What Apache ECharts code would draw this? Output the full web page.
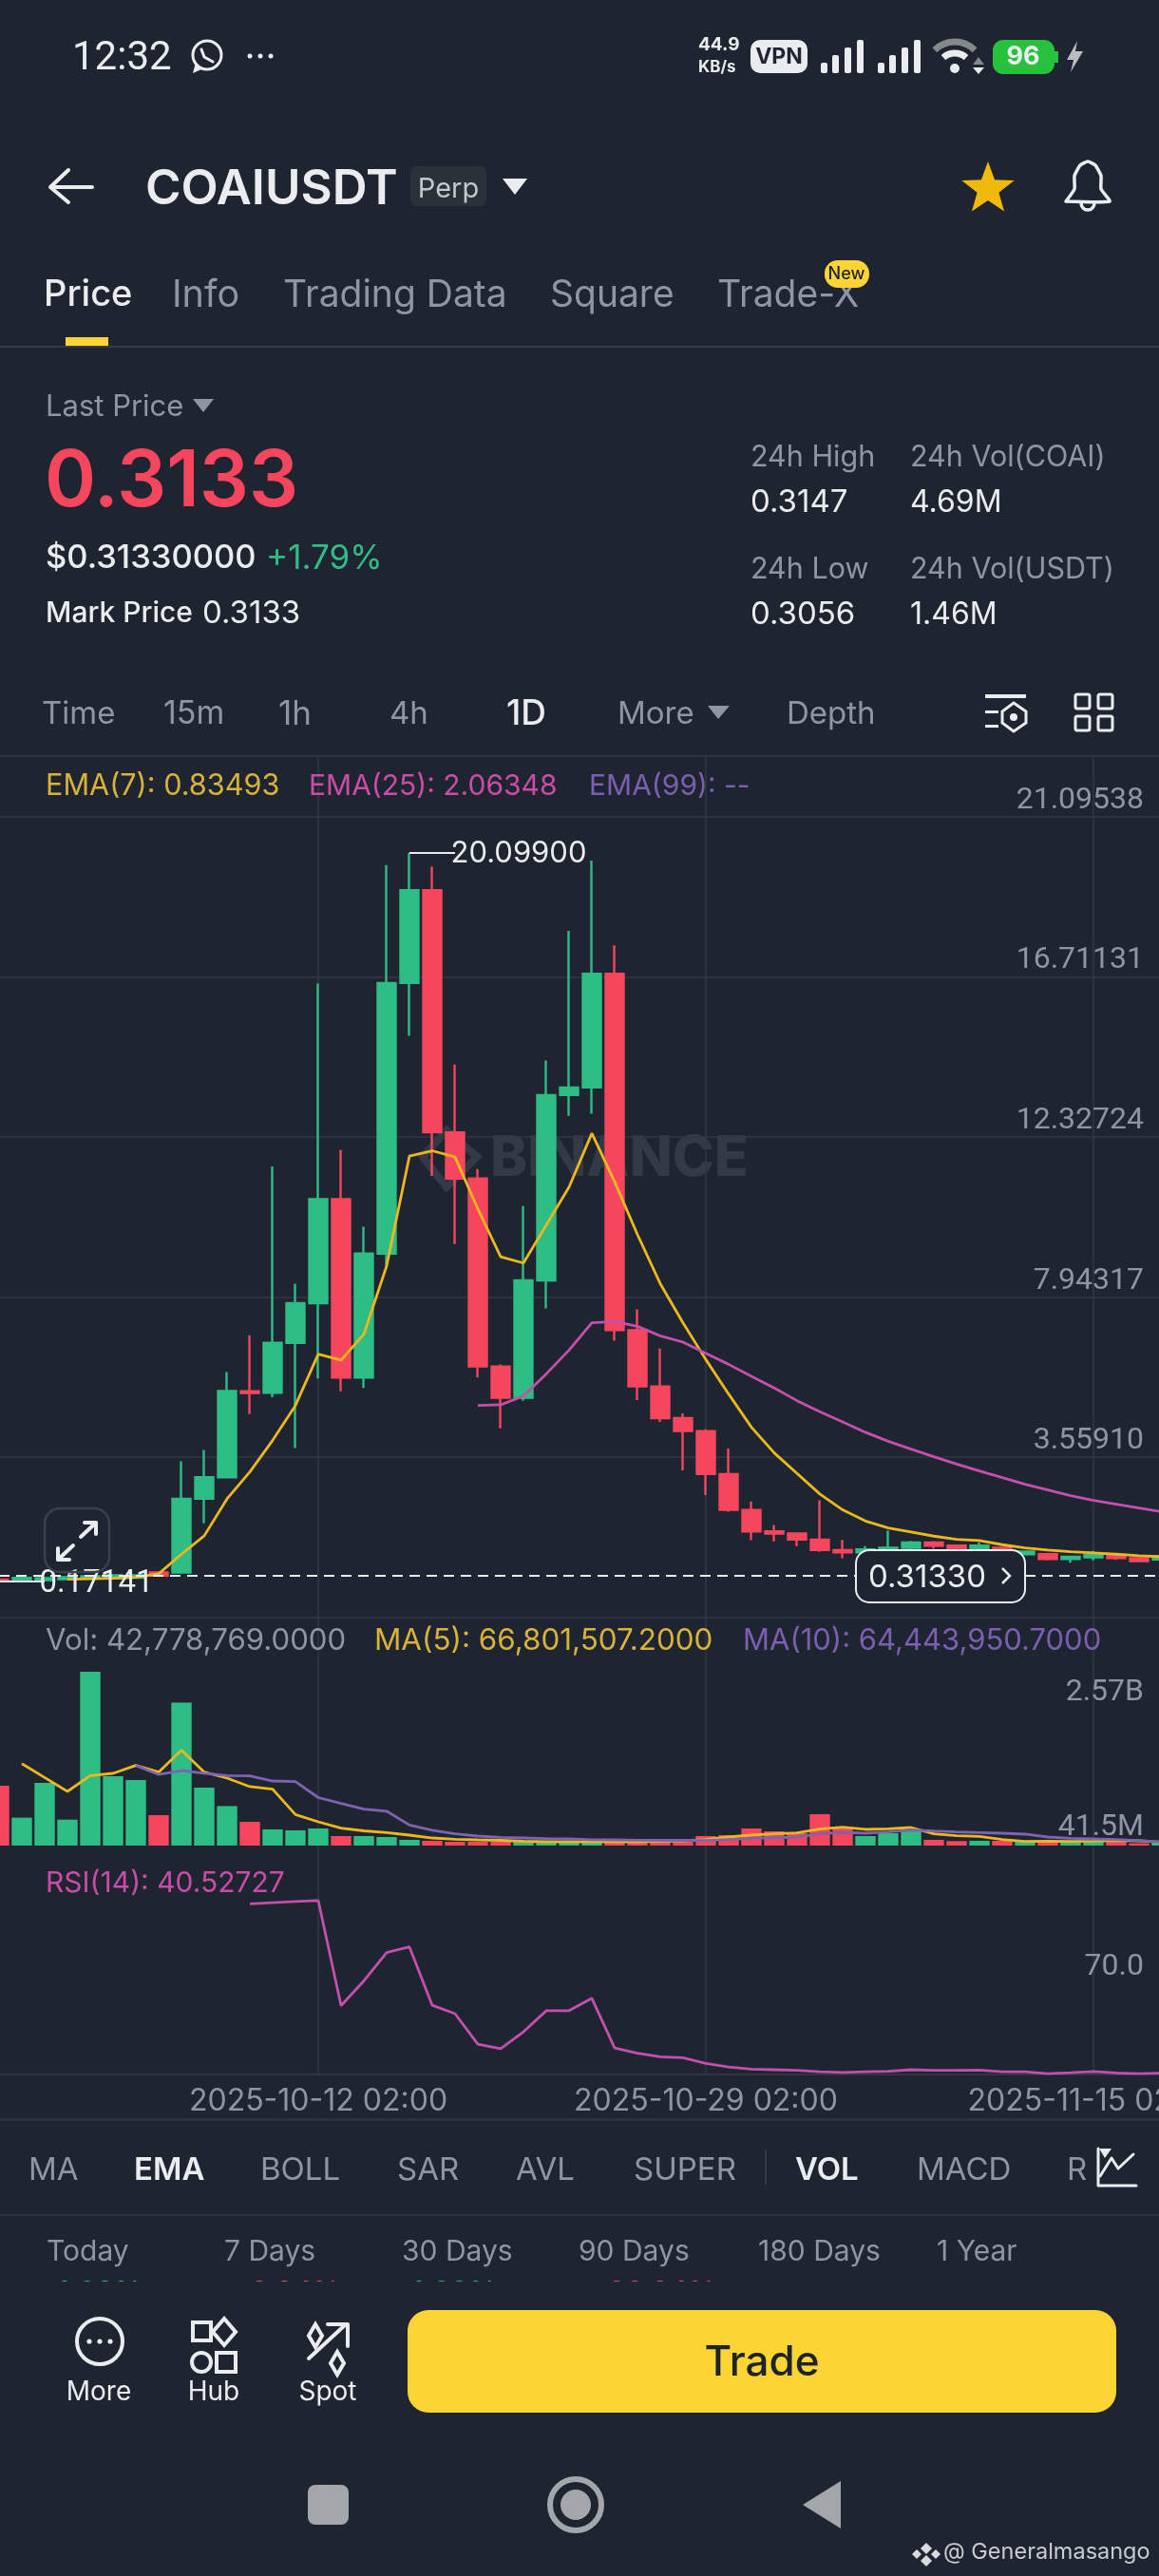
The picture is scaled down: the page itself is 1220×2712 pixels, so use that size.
<!DOCTYPE html>
<html><head><meta charset="utf-8">
<script src="https://cdn.jsdelivr.net/npm/echarts@6/dist/echarts.min.js"></script>
<style>html,body{margin:0;padding:0;background:#1e2530}#c{width:1220px;height:2712px}</style>
</head><body><div id="c"></div>
<script>
const days=['09-28','09-29','09-30','10-01','10-02','10-03','10-04','10-05','10-06','10-07','10-08','10-09','10-10','10-11','10-12','10-13','10-14','10-15','10-16','10-17','10-18','10-19','10-20','10-21','10-22','10-23','10-24','10-25','10-26','10-27','10-28','10-29','10-30','10-31','11-01','11-02','11-03','11-04','11-05','11-06','11-07','11-08','11-09','11-10','11-11','11-12','11-13','11-14','11-15','11-16','11-17','11-18'];
const xTickLabels=['2025-10-12 02:00','2025-10-29 02:00','2025-11-15 02:00'];
const opens=[.21,.193,.193,.219,.245,.245,.258,.401,.401,2.42,3.008,5.365,5.321,6.69,7.774,10.622,5.737,9.133,16.54,19.078,12.452,11.186,6.041,5.183,8.398,13.473,13.681,16.792,7.036,5.495,4.629,4.273,3.096,2.116,1.527,1.467,1.303,1.017,.955,1.033,1.077,1.225,1.137,1.059,1.077,.903,.903,.773,.817,.877,.791,.757];
const closes=[.175,.253,.245,.271,.297,.323,.323,.315,2.42,3.008,5.373,5.313,6.69,7.774,10.622,5.737,9.133,16.54,19.078,12.452,11.186,6.041,5.183,8.398,13.473,13.681,16.792,7.036,5.495,4.629,4.273,3.096,2.116,1.527,1.467,1.303,1.017,.955,1.033,1.077,1.225,1.137,1.059,1.137,.981,.973,.773,.835,.887,.799,.713,.835];
const lows=[.17141,.185,.18,.2,.23,.23,.25,.3,.39,1.745,2.982,4.741,5.201,3.806,5.711,5.365,5.451,8.795,15.092,11.256,9.393,5.737,4.351,5.105,7.634,12.901,12.961,6.75,5.123,4.525,3.2,2.524,2.064,1.285,1.251,1.121,.965,.791,.921,.835,.999,1.059,.999,.999,.903,.869,.731,.669,.731,.747,.69,.7];
const highs=[.24,.27,.26,.29,.32,.35,.34,.42,3.442,3.754,5.892,6.898,11.516,8.309,16.521,11.966,9.869,19.77,20.099,19.728,14.305,11.446,6.1,10.432,14.416,17.969,19.892,17.571,7.608,6.534,4.759,4.325,3.798,2.343,1.701,1.49,2.376,1.293,1.121,1.553,1.267,1.26,1.15,1.225,1.1,.999,.92,.845,.991,.89,.8,.85];
const ema7=[null,null,null,.219,.232,.245,.271,.367,.903,1.407,2.42,3.156,4.021,4.975,6.378,6.215,6.924,8.795,11.802,11.947,11.776,10.355,9.047,8.873,9.913,10.952,12.426,11.1,9.653,8.309,7.236,6.23,5.287,4.377,3.676,3.112,2.55,2.116,1.812,1.623,1.511,1.397,1.311,1.277,1.163,1.077,1.017,.973,.939,.903,.861,.835];
const ema25=[null,null,null,null,null,null,null,null,null,null,null,null,null,null,null,null,null,null,null,null,null,4.975,4.993,5.235,5.84,6.49,7.236,7.27,7.14,6.88,6.708,6.404,6.1,5.773,5.451,5.105,4.801,4.525,4.24,3.995,3.78,3.572,3.372,3.182,3,2.818,2.662,2.506,2.376,2.272,2.168,2.063];
const volumes=[1121,523,1175,486,3257,1299,1228,570,2679,1086,740,445,303,285,320,178,178,160,107,89,71,71,71,71,71,71,71,71,71,80,89,178,196,320,267,231,587,320,178,231,285,107,84,89,89,77,71,71,71,84,43,71];
const volMa5=[null,1534,1274,1015,1312,1353,1502,1376,1789,1376,1264,1104,1057,580,445,328,276,244,196,142,117,107,98,80,71,71,71,71,71,80,89,112,160,196,219,237,308,344,303,315,338,219,183,173,112,77,84,77,84,94,89,66.8];
const volMa10=[null,null,null,null,null,null,1502,1331,1406,1356,1312,1307,1210,1198,899,790,684,644,384,285,219,178,155,142,130,125,110,107,101,98,98,94,112,142,142,160,219,249,231,255,290,272,255,244,231,214,160,137,125,112,94,64.4];
const rsi14=[null,null,null,null,null,null,null,null,null,null,null,96.4,96.8,97.2,97.5,62.6,70.8,80.2,82.1,62.7,59.9,49.8,48.3,53.9,60.9,60.9,65,48.5,46.8,45.6,45.3,43.4,42.2,41.5,41.3,41.1,40.6,40.4,40.6,40.8,41.3,41.1,41.1,41.2,40.6,40.6,40,40.3,40.7,40.2,40,40.2];
const priceTicks=[21.09538,16.71131,12.32724,7.94317,3.5591];
const priceFloor=-0.82497;
const volTicks=[2570,41.5];
const rsiTicks=[70];
const lastPrice=0.3133, highIdx=18, lowIdx=0, highVal=20.099, lowVal=0.17141;

const categories=days.map(d=>'2025-'+d+' 02:00');
const BG='#1e2530',GR='#8e96a1',GRID='#313843',W='#eaecef',UP='#2ebd85',DN='#f6465d',YL='#edb81f',PK='#c44fae',PU='#7d63b0';
const YT='#d9b23c',PT='#c94ca8',PUT='#7b5fb0';
const F='Inter, "Noto Sans", sans-serif';
const G=[];
function T(text,x,y,size,fill,o){o=o||{};G.push({type:'text',x:x,y:y+4,z:o.z==null?10:o.z,style:{text:text,fill:fill,font:(o.w||400)+' '+size+'px '+F,align:o.a||'left',verticalAlign:'middle',textAlign:o.a||'left',textVerticalAlign:'middle'}});}
function R(x,y,w,h,fill,o){o=o||{};G.push({type:'rect',z:o.z==null?10:o.z,shape:{x:x,y:y,width:w,height:h,r:o.r||0},style:{fill:fill||'none',stroke:o.s||null,lineWidth:o.lw||0}});}
function C(cx,cy,r,fill,o){o=o||{};G.push({type:'circle',z:o.z==null?10:o.z,shape:{cx:cx,cy:cy,r:r},style:{fill:fill||'none',stroke:o.s||null,lineWidth:o.lw||0}});}
function P(pts,fill,o){o=o||{};G.push({type:'polygon',z:o.z==null?10:o.z,shape:{points:pts},style:{fill:fill||'none',stroke:o.s||null,lineWidth:o.lw||0}});}
function L(pts,stroke,lw,o){o=o||{};G.push({type:'polyline',z:o.z==null?10:o.z,shape:{points:pts,smooth:o.smooth||0},style:{fill:'none',stroke:stroke,lineWidth:lw,lineCap:'round',lineJoin:'round'}});}
function A(cx,cy,r,a0,a1,stroke,lw){G.push({type:'arc',z:10,shape:{cx:cx,cy:cy,r:r,startAngle:a0,endAngle:a1},style:{fill:'none',stroke:stroke,lineWidth:lw}});}

// status bar
G.push({type:'text',x:76,y:62,z:10,style:{text:'12:32',fill:W,font:'400 42px Roboto',align:'left',verticalAlign:'middle',textAlign:'left',textVerticalAlign:'middle'}});
C(218,58,15,null,{s:W,lw:3});P([[203,77],[206,66],[212,73]],W);L([[212,52],[215,60],[224,65]],W,3);
C(263,59,2.5,W);C(274,59,2.5,W);C(285,59,2.5,W);
T('44.9',735,43,19,W,{w:700});T('KB/s',735,67,17,W,{w:700});
R(790,42,60,35,W,{r:10});T('VPN',820,56,23,'#1e2530',{w:700,a:'center'});
[864,924].forEach(x=>{R(x,66,7,11,W,{r:2});R(x+12,58,7,19,W,{r:2});R(x+25,50,7,27,W,{r:2});R(x+38,42,7,35,W,{r:2});});
A(1005,74,30,-2.35,-0.79,'#85888c',7);A(1005,74,18,-2.3,-0.84,W,7);C(1005,72,5,W);P([[1024,68],[1030,60],[1036,68]],'#85888c');P([[1024,71],[1036,71],[1030,78]],W);
R(1045,42,65,36,'#27c13c',{r:11});R(1110,54,4,12,'#27c13c');T('96',1077,56,27,W,{w:700,a:'center'});
P([[1134,43],[1123,63],[1130,63],[1127,76],[1140,54],[1132,54]],'#b9bcc0');

// header
L([[97,197],[54,197]],W,4);L([[72,179],[53,197],[72,213]],W,4);
T('COAIUSDT',153,196,51,W,{w:600});
R(432,175,80,42,'#2b3139',{r:5});T('Perp',472,195,29,'#c3c8cf',{a:'center'});
P([[529,188],[555,188],[542,205]],W);
(function(){const pts=[];for(let i=0;i<10;i++){const r=i%2?12:29,a=-Math.PI/2+i*Math.PI/5;pts.push([1040+r*Math.cos(a),199+r*Math.sin(a)]);}P(pts,'#f0b90b');})();
L([[1122,212],[1131,199],[1131,185],[1137,174],[1145,170],[1153,174],[1159,185],[1159,199],[1168,212],[1122,212]],W,3.5,{smooth:0.15});
A(1145,214,7,0,3.14,W,3.5);

// tabs
T('Price',46,307,38,W,{w:500});T('Info',181,307,39.5,GR);T('Trading Data',298,307,39,GR);T('Square',579,307,39,GR);T('Trade-X',755,307,39,GR);
R(868,274,47,29,'#fcd535',{r:14});T('New',891,285,18,'#1e2329',{a:'center',w:500});
R(69,355,45,10,'#fcd535');R(0,364,1220,2,'#343b46');

// price block
T('Last Price',48,425,31,GR);P([[203,420],[225,420],[214,434]],GR);
T('0.3133',47,504,82,DN,{w:600});
T('$0.31330000',48,584,34.5,W,{w:500});T('+1.79%',280,584,35,UP);
T('Mark Price',48,642,30,W,{w:500});T('0.3133',213,642,33,W);
T('24h High',790,478,30.5,GR);T('0.3147',790,525,33,W);T('24h Vol(COAI)',958,478,30.5,GR);T('4.69M',958,525,32,W);
T('24h Low',790,596,30.5,GR);T('0.3056',790,643,33,W);T('24h Vol(USDT)',958,596,30.5,GR);T('1.46M',958,643,32,W);

// intervals
T('Time',44,748,33,GR);T('15m',172,748,34,GR);T('1h',293,748,35,GR);T('4h',410,748,33,GR);T('1D',533,748,37,W,{w:500});T('More',650,748,33,GR);P([[745,743],[768,743],[756,757]],GR);T('Depth',828,748,33,GR);
R(1037,731,43,4,W);R(1037,748,14,3,W);R(1037,763,14,3,W);P([[1067,740],[1080,749],[1080,761],[1067,770],[1055,761],[1055,749]],null,{s:W,lw:3});C(1067,755,4,W);
R(1132,731,15,15,null,{s:W,lw:3,r:2});R(1156,731,15,15,null,{s:W,lw:3,r:2});R(1132,754,15,15,null,{s:W,lw:3,r:2});R(1156,754,15,15,null,{s:W,lw:3,r:2});
R(0,795,1220,2,'#2c333e');

// legends
T('EMA(7): 0.83493',48,824,30.6,YT);T('EMA(25): 2.06348',325,824,30,PT);T('EMA(99): --',620,824,30,PUT);
T('Vol: 42,778,769.0000',48,1724,31.2,GR);T('MA(5): 66,801,507.2000',394,1724,31.4,YT);T('MA(10): 64,443,950.7000',782,1724,31,PUT);
T('RSI(14): 40.52727',48,1979,30,PT);

// watermark
T('BINANCE',516,1216,59,'#323a45',{w:800,z:0});
P([[470,1190],[502,1218],[470,1250],[445,1218]],null,{s:'#323a45',lw:8,z:0});

// expand button and price tag
R(47,1588,68,67,null,{s:'#3a414c',lw:2.5,r:16});
L([[85,1618],[101,1603]],W,4);L([[89,1603],[101,1603],[101,1615]],W,4);L([[77,1627],[61,1642]],W,4);L([[61,1630],[61,1642],[73,1642]],W,4);
R(901,1632,178,55,BG,{s:W,lw:2,r:14,z:30});
G.push({type:'text',x:914,y:1661,z:31,style:{text:'0.31330',fill:W,font:'400 33px '+F,align:'left',verticalAlign:'middle',textAlign:'left',textVerticalAlign:'middle'}});
G.push({type:'polyline',z:31,shape:{points:[[1055,1651],[1063,1659],[1055,1667]]},style:{fill:'none',stroke:W,lineWidth:2.5}});

// indicators
R(0,2230,1220,3,'#2c333e');
T('MA',30,2281,33,GR);T('EMA',141,2281,33,W,{w:600});T('BOLL',274,2281,33,GR);T('SAR',418,2281,33,GR);T('AVL',543,2281,33,GR);T('SUPER',667,2281,33,GR);R(805,2263,2,37,'#343b46');T('VOL',837,2281,33,W,{w:600});T('MACD',965,2281,33,GR);T('RSI',1123,2281,33,GR,{z:5});
R(1146,2255,74,55,BG,{z:6});
L([[1156,2262],[1156,2301],[1196,2301]],W,3);L([[1158,2291],[1170,2272],[1177,2283],[1193,2268]],W,3);P([[1157,2262],[1170,2262],[1163,2272]],W);
R(0,2331,1220,2,'#2c333e');
T('Today',49,2367,30,GR);T('7 Days',236,2367,30,GR);T('30 Days',423,2367,30,GR);T('90 Days',609,2367,30,GR);T('180 Days',798,2367,30,GR);T('1 Year',986,2367,30,GR);
T('4.02%',55,2410,30,UP,{z:5,w:500});T('-3.34%',250,2410,30,DN,{z:5,w:500});T('4.09%',428,2410,30,UP,{z:5,w:500});T('-88.84%',626,2410,30,DN,{z:5,w:500});
R(0,2402,1220,310,BG,{z:6});

// bottom bar
C(105,2465,24,null,{s:W,lw:4});C(94,2465,2.6,W);C(105,2465,2.6,W);C(116,2465,2.6,W);
T('More',104,2515,28,W,{a:'center'});
R(203,2445,19,19,null,{s:W,lw:4});P([[236,2441],[248,2455],[236,2469],[224,2455]],null,{s:W,lw:4});C(212,2487,10,null,{s:W,lw:4});R(228,2477,20,20,null,{s:W,lw:4});
T('Hub',225,2515,28,W,{a:'center'});
L([[325,2483],[364,2447]],W,4);L([[345,2447],[366,2447],[366,2470]],W,4);
P([[332,2447],[339,2459],[332,2471],[325,2459]],null,{s:W,lw:4});P([[355,2476],[362,2488],[355,2500],[348,2488]],null,{s:W,lw:4});
T('Spot',345,2515,28,W,{a:'center'});
R(429,2432,746,108,'#fcd535',{r:22});T('Trade',802,2484,44,'#1e2329',{a:'center',w:500});
R(324,2616,43,42,'#a3a6ab',{r:8});
C(606,2637,27,null,{s:'#a3a6ab',lw:6});C(606,2637,16,'#a3a6ab');
P([[885,2612],[845,2637],[885,2662]],'#a3a6ab');
P([[975,2677],[981,2683],[975,2689],[969,2683]],'#d8dade');P([[975,2690],[981,2696],[975,2702],[969,2696]],'#d8dade');P([[965,2684],[970,2689],[965,2694],[960,2689]],'#d8dade');P([[985,2684],[990,2689],[985,2694],[980,2689]],'#d8dade');
T('@ Generalmasango',993,2683,23.5,'#c9ccd0');

const gl={left:-13,width:1248,outerBoundsMode:'none'};
const hiddenX=i=>({type:'category',gridIndex:i,data:categories,boundaryGap:true,axisLine:{show:false},axisTick:{show:false},axisLabel:{show:false},splitLine:{show:false}});
const yLabel={show:true,inside:true,margin:31,color:GR,fontSize:32,fontFamily:'Roboto',verticalAlign:'bottom',align:'right',padding:[0,0,1,0]};
const option={
  backgroundColor:BG,animation:false,tooltip:{show:false},legend:{show:false},
  graphic:{elements:G},
  grid:[
    {left:-1,width:1224,top:795,height:1388,outerBoundsMode:'none'},
    Object.assign({top:859.7,height:843},gl),
    Object.assign({top:1703,height:240},gl),
    Object.assign({top:1943,height:240.3},gl)
  ],
  xAxis:[
    {type:'category',gridIndex:0,data:categories,boundaryGap:false,axisLine:{show:false},axisTick:{show:false},
     axisLabel:{show:true,interval:(i,v)=>xTickLabels.includes(v),color:GR,fontSize:32,fontFamily:F,margin:13,hideOverlap:false},
     splitLine:{show:true,interval:(i,v)=>xTickLabels.includes(v),lineStyle:{color:GRID,width:1.5}}},
    hiddenX(1),hiddenX(2),
    Object.assign(hiddenX(3),{axisLine:{show:true,onZero:false,lineStyle:{color:GRID,width:2}}})
  ],
  yAxis:[
    {type:'value',gridIndex:0,min:0,max:1,show:false},
    {type:'value',gridIndex:1,position:'right',min:priceFloor,max:priceTicks[0],axisLine:{show:false},
     axisTick:{show:false,customValues:priceTicks.concat([priceFloor])},
     axisLabel:Object.assign({customValues:priceTicks,formatter:v=>v.toFixed(5)},yLabel),
     splitLine:{show:true,lineStyle:{color:GRID,width:1.5}}},
    {type:'value',gridIndex:2,position:'right',min:0,max:4272,axisLine:{show:false},
     axisTick:{show:false,customValues:volTicks},
     axisLabel:Object.assign({customValues:volTicks,formatter:v=>v>=1000?(v/1000).toFixed(2)+'B':v.toFixed(1)+'M'},yLabel),
     splitLine:{show:false}},
    {type:'value',gridIndex:3,position:'right',min:39.94,max:115.74,axisLine:{show:false},
     axisTick:{show:false,customValues:rsiTicks},
     axisLabel:Object.assign({customValues:rsiTicks,formatter:v=>v.toFixed(1)},yLabel),
     splitLine:{show:false}}
  ],
  series:[
    {type:'candlestick',name:'Price',xAxisIndex:1,yAxisIndex:1,barWidth:19,
     data:opens.map((o,i)=>[o,closes[i],lows[i],highs[i]]),
     itemStyle:{color:UP,color0:DN,borderColor:UP,borderColor0:DN,borderWidth:2.4},
     markLine:{silent:true,symbol:'none',animation:false,label:{show:false},
       data:[
         [{coord:[categories[0],lastPrice],lineStyle:{color:'#e8eaed',width:2,type:[11,7]}},{coord:[categories[51],lastPrice]}],
         [{coord:[categories[highIdx],highVal],lineStyle:{color:W,width:2,type:'solid'}},{coord:[categories[highIdx+2],highVal]}],
         [{coord:[categories[lowIdx],lowVal],lineStyle:{color:W,width:2,type:'solid'}},{coord:[categories[lowIdx+2],lowVal]}]
       ]},
     markPoint:{silent:true,symbol:'circle',symbolSize:1,itemStyle:{color:'transparent'},animation:false,
       data:[
         {coord:[categories[highIdx+2],highVal],label:{show:true,position:'right',distance:-5,color:W,fontSize:31,fontFamily:F,formatter:highVal.toFixed(5),offset:[0,1]}},
         {coord:[categories[lowIdx+2],lowVal],label:{show:true,position:'right',distance:-6,color:W,fontSize:33,fontFamily:'Roboto',formatter:lowVal.toFixed(5),offset:[0,3]}}
       ]}},
    {type:'line',name:'EMA(7)',xAxisIndex:1,yAxisIndex:1,data:ema7,showSymbol:false,lineStyle:{color:YL,width:2.8}},
    {type:'line',name:'EMA(25)',xAxisIndex:1,yAxisIndex:1,data:ema25,showSymbol:false,lineStyle:{color:PK,width:2.8}},
    {type:'bar',name:'Vol',xAxisIndex:2,yAxisIndex:2,barWidth:21.4,
     data:volumes.map((v,i)=>({value:v,itemStyle:{color:closes[i]>=opens[i]?UP:DN}}))},
    {type:'line',name:'MA(5)',xAxisIndex:2,yAxisIndex:2,data:volMa5,showSymbol:false,lineStyle:{color:YL,width:2.8}},
    {type:'line',name:'MA(10)',xAxisIndex:2,yAxisIndex:2,data:volMa10,showSymbol:false,lineStyle:{color:PU,width:2.8}},
    {type:'line',name:'RSI(14)',xAxisIndex:3,yAxisIndex:3,data:rsi14,showSymbol:false,lineStyle:{color:PK,width:2.8}}
  ]
};
const chart=echarts.init(document.getElementById('c'),null,{width:1220,height:2712});
chart.setOption(option);
</script></body></html>
